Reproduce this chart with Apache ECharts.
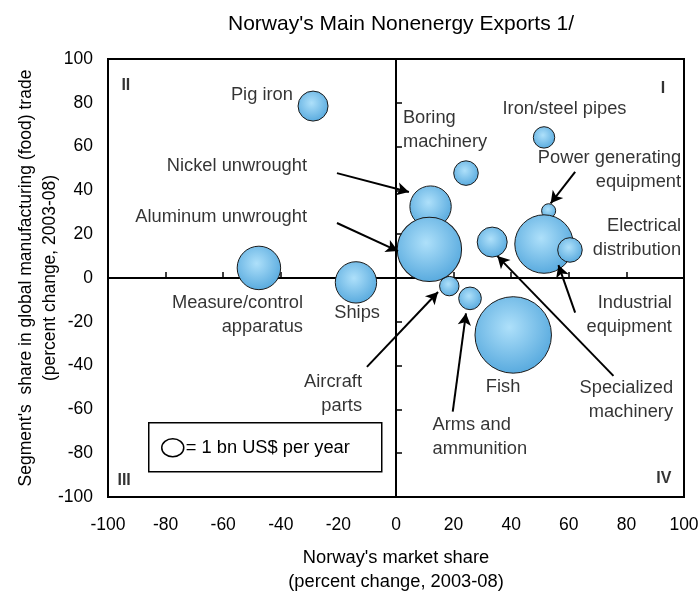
<!DOCTYPE html>
<html>
<head>
<meta charset="utf-8">
<script src="https://cdn.jsdelivr.net/npm/echarts@6/dist/echarts.min.js"></script>
<style>
  html, body { margin: 0; padding: 0; background: #fff; }
  #chart { width: 700px; height: 593px; }
</style>
</head>
<body>
<div id="chart"></div>
<script>
// products, market share change (x), global trade share change (y), export value (bn US$)
var products = ['Pig iron', 'Measure/control apparatus', 'Ships', 'Boring machinery', 'Nickel unwrought',
  'Aircraft parts', 'Aluminum unwrought', 'Iron/steel pipes', 'Power generating equipment',
  'Specialized machinery', 'Industrial equipment', 'Electrical distribution', 'Arms and ammunition', 'Fish'];
var marketShare = [-28.8, -47.6, -13.9, 24.3, 12.0, 18.5, 11.6, 51.4, 53.0, 33.4, 51.4, 60.4, 25.7, 40.7];
var tradeShare  = [78.5, 4.6, -2.0, 47.9, 32.6, -3.7, 13.1, 64.2, 30.7, 16.4, 15.5, 12.8, -9.3, -26.0];
var exportValue = [1.0, 2.1, 1.9, 0.67, 1.9, 0.42, 4.6, 0.51, 0.22, 1.0, 3.8, 0.67, 0.57, 6.5];

var font = 'Liberation Sans, Arial, sans-serif';
var textSize = 18.3;

// text labels placed in data coords: [text, x, y, side]
var notes = [
  ['Pig iron', -35.8, 83.6, 'left'],
  ['Nickel unwrought', -30.9, 51.1, 'left'],
  ['Aluminum unwrought', -30.9, 27.9, 'left'],
  ['Measure/control\napparatus', -32.3, -16.7, 'left'],
  ['Ships', -13.5, -16.0, 'inside'],
  ['Aircraft\nparts', -11.8, -53.0, 'left'],
  ['Boring\nmachinery', 2.4, 67.5, 'right'],
  ['Iron/steel pipes', 58.5, 77.2, 'inside'],
  ['Power generating\nequipment', 99.0, 49.3, 'left'],
  ['Electrical\ndistribution', 99.0, 18.2, 'left'],
  ['Industrial\nequipment', 95.8, -16.9, 'left'],
  ['Specialized\nmachinery', 96.2, -55.9, 'left'],
  ['Fish', 37.2, -49.8, 'inside'],
  ['Arms and\nammunition', 12.7, -72.5, 'right']
];
var quadrants = [['II', -93.8, 88.0], ['I', 92.7, 86.3], ['III', -94.4, -92.7], ['IV', 93.0, -91.8]];

// arrows: from, to
var arrows = [
  [[-20.5, 47.9], [4.5, 39.3]],
  [[-20.5, 25.1], [0.7, 12.3]],
  [[-10.1, -40.6], [14.6, -6.4]],
  [[62.2, 48.5], [53.7, 34.1]],
  [[62.2, -15.8], [56.4, 5.9]],
  [[75.5, -44.7], [35.2, 10.0]],
  [[19.7, -61.0], [24.3, -16.1]]
];

var chart = echarts.init(document.getElementById('chart'));

var bubbleData = products.map(function (p, i) {
  return { name: p, value: [marketShare[i], tradeShare[i], exportValue[i]] };
});

var noteData = notes.map(function (n) {
  return {
    value: [n[1], n[2]],
    label: {
      show: true, formatter: n[0], position: n[3], distance: 0,
      align: n[3] === 'left' ? 'right' : (n[3] === 'right' ? 'left' : 'center'),
      verticalAlign: 'middle', fontSize: textSize, lineHeight: 24, color: '#000', fontFamily: font
    }
  };
}).concat(quadrants.map(function (q) {
  return {
    value: [q[1], q[2]],
    label: {
      show: true, formatter: q[0], position: 'inside', fontSize: 16, fontWeight: 'bold',
      color: '#000', fontFamily: font
    }
  };
}));

var option = {
  animation: false,
  title: {
    text: "Norway's Main Nonenergy Exports 1/",
    left: 396, top: 9, textAlign: 'center',
    textStyle: { fontSize: 21, fontWeight: 'normal', color: '#000', fontFamily: font }
  },
  grid: {
    left: 108, right: 16, top: 59, bottom: 96, outerBoundsMode: 'none',
    show: true, borderColor: '#000', borderWidth: 2
  },
  xAxis: [{
    type: 'value', min: -100, max: 100, interval: 20, position: 'bottom',
    name: "Norway's market share\n(percent change, 2003-08)",
    nameLocation: 'middle', nameGap: 49, nameMoveOverlap: false,
    nameTextStyle: { fontSize: textSize, lineHeight: 24, color: '#000', fontFamily: font, verticalAlign: 'top' },
    axisLine: { show: false, onZero: false }, axisTick: { show: false }, splitLine: { show: false },
    axisLabel: { fontSize: 17.5, color: '#000', margin: 19, fontFamily: font }
  }, {
    type: 'value', min: -100, max: 100, interval: 20, position: 'top',
    axisLine: { show: true, onZero: true, lineStyle: { color: '#000', width: 2 } },
    axisTick: { show: true, inside: false, length: 6, lineStyle: { color: '#000', width: 1.5 } },
    axisLabel: { show: false }, splitLine: { show: false }
  }],
  yAxis: [{
    type: 'value', min: -100, max: 100, interval: 20, position: 'left',
    name: "Segment's  share in global manufacturing (food) trade\n(percent change, 2003-08)",
    nameLocation: 'middle', nameGap: 46, nameMoveOverlap: false,
    nameTextStyle: { fontSize: 17.5, lineHeight: 24, color: '#000', fontFamily: font },
    axisLine: { show: false, onZero: false }, axisTick: { show: false }, splitLine: { show: false },
    axisLabel: { fontSize: 17.5, color: '#000', margin: 15, fontFamily: font }
  }, {
    type: 'value', min: -100, max: 100, interval: 20, position: 'right',
    axisLine: { show: true, onZero: true, lineStyle: { color: '#000', width: 2 } },
    axisTick: { show: true, inside: false, length: 6, lineStyle: { color: '#000', width: 1.5 } },
    axisLabel: { show: false }, splitLine: { show: false }
  }],
  series: [{
    name: 'exports',
    type: 'scatter',
    xAxisIndex: 0, yAxisIndex: 0,
    data: bubbleData,
    symbolSize: function (v) { return 30 * Math.sqrt(v[2]); },
    itemStyle: {
      color: {
        type: 'radial', x: 0.45, y: 0.4, r: 0.65,
        colorStops: [{ offset: 0, color: '#aee0fa' }, { offset: 1, color: '#52a6dc' }]
      },
      borderColor: '#1a1a1a', borderWidth: 1, opacity: 1
    }
  }, {
    name: 'notes',
    type: 'scatter',
    xAxisIndex: 0, yAxisIndex: 0,
    symbolSize: 0,
    silent: true,
    data: noteData,
    markLine: {
      silent: true, animation: false,
      symbol: ['none', 'arrow'], symbolSize: [10, 12],
      lineStyle: { color: '#000', width: 2, type: 'solid' },
      label: { show: false },
      data: arrows.map(function (a) { return [{ coord: a[0] }, { coord: a[1] }]; })
    }
  }],
  graphic: [{
    type: 'group', left: 148, top: 422,
    children: [
      { type: 'rect', shape: { x: 0, y: 0, width: 233, height: 49 }, style: { fill: '#fff', stroke: '#000', lineWidth: 1.5 } },
      { type: 'ellipse', shape: { cx: 24, cy: 25, rx: 11, ry: 9 }, style: { fill: '#fff', stroke: '#000', lineWidth: 1.5 } },
      { type: 'text', x: 37, y: 25, style: { text: '= 1 bn US$ per year', fontSize: textSize, fill: '#000', verticalAlign: 'middle', fontFamily: font } }
    ]
  }]
};

chart.setOption(option);
</script>
</body>
</html>
